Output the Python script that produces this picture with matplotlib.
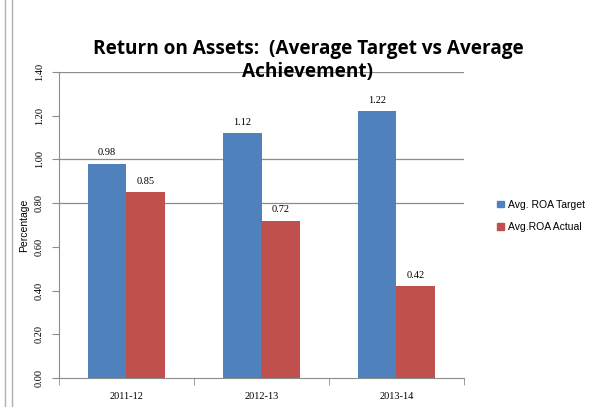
import matplotlib
matplotlib.use("Agg")
import matplotlib.pyplot as plt
import numpy as np
from matplotlib.lines import Line2D
from matplotlib.patches import Rectangle

categories = ["2011-12", "2012-13", "2013-14"]
target = [0.98, 1.12, 1.22]
actual = [0.85, 0.72, 0.42]
series_names = ["Avg. ROA Target", "Avg.ROA Actual"]
yticks = [0.0, 0.2, 0.4, 0.6, 0.8, 1.0, 1.2, 1.4]
grid_vals = [0.8, 1.0, 1.4]

blue = "#4F81BD"
red = "#C0504D"
serif = "Liberation Serif"

fig = plt.figure(figsize=(5.9, 4.07), dpi=100)
ax = fig.add_axes([59/590, 1-378/407, (464-59)/590, (378-72)/407])

x = np.arange(len(categories))
w = 0.287
ax.bar(x - w/2, target, w, color=blue, zorder=3, label=series_names[0])
ax.bar(x + w/2, actual, w, color=red, zorder=3, label=series_names[1])
for xi, v in zip(x - w/2, target):
    ax.text(xi, v + 0.03, f"{v:.2f}", ha="center", va="bottom", fontsize=7.5, family=serif)
for xi, v in zip(x + w/2, actual):
    ax.text(xi, v + 0.03, f"{v:.2f}", ha="center", va="bottom", fontsize=7.5, family=serif)

for g in grid_vals:
    ax.axhline(g, color="#8c8c8c", lw=0.9, zorder=1)

ax.set_xlim(-0.5, 2.5)
ax.set_ylim(0, 1.4)
ax.set_yticks(yticks)
ax.set_yticklabels([f"{t:.2f}" for t in yticks], rotation=90, va="center",
                   family=serif, fontsize=7.5)
ax.set_xticks(x)
ax.set_xticklabels(categories, family=serif, fontsize=7.5)
ax.tick_params(axis="x", length=0, pad=10)
ax.set_xticks([-0.5, 0.5, 1.5, 2.5], minor=True)
ax.tick_params(axis="x", which="minor", length=5, color="#8c8c8c", direction="out")
ax.tick_params(axis="y", length=5, color="#8c8c8c", pad=6)
for s in ["top", "right"]:
    ax.spines[s].set_visible(False)
for s in ["left", "bottom"]:
    ax.spines[s].set_color("#8c8c8c")
ax.set_ylabel("Percentage", fontsize=7.5, family="Liberation Sans", labelpad=4)

fig.text(308/590, 1-49/407, "Return on Assets:  (Average Target vs Average",
         ha="center", va="center", fontsize=13.7, fontweight="bold", family="Open Sans")
fig.text(308/590, 1-72/407, "Achievement)",
         ha="center", va="center", fontsize=13.7, fontweight="bold", family="Open Sans")

handles = [Rectangle((0, 0), 1, 1, color=blue), Rectangle((0, 0), 1, 1, color=red)]
fig.legend(handles, series_names, loc="center left", bbox_to_anchor=(488/590, 1-216/407),
           frameon=False, handlelength=0.6, handleheight=0.6,
           handletextpad=0.4, labelspacing=1.2, prop={"family": "Liberation Sans", "size": 7.5})

for xp in [5, 12]:
    fig.add_artist(Line2D([xp/590, xp/590], [0, 1], color="#b0b0b0", lw=1))

fig.savefig("out.png", dpi=100)
